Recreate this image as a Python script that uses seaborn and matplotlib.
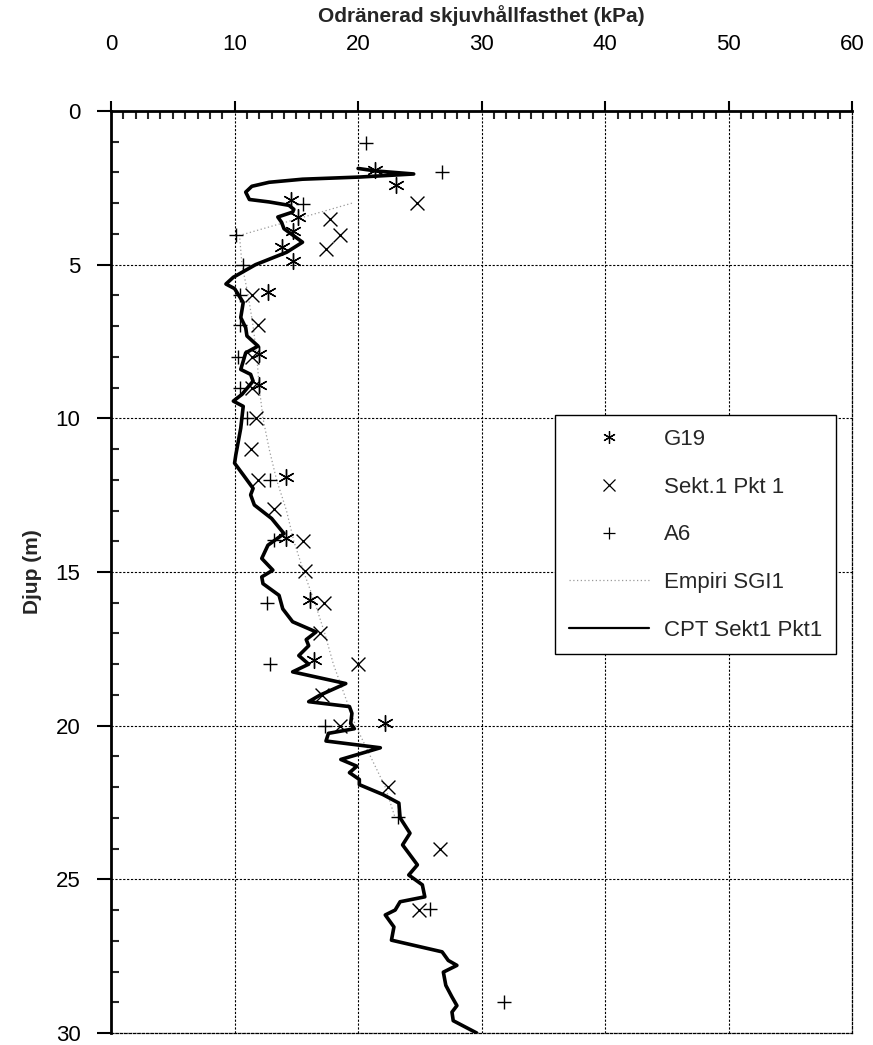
import numpy as np
import pandas as pd
import matplotlib
matplotlib.use("Agg")
import matplotlib.pyplot as plt
import seaborn as sns
from matplotlib.lines import Line2D
from matplotlib.ticker import MultipleLocator

# ---------------- data ----------------
g19_kpa = [21.4, 23.1, 14.6, 15.1, 14.7, 13.8, 14.7, 12.7, 12.0, 12.0, 14.2, 14.2, 16.1, 16.4, 22.2]
g19_depth = [1.93, 2.42, 2.91, 3.45, 3.92, 4.41, 4.89, 5.9, 7.9, 8.9, 11.9, 13.9, 15.9, 17.87, 19.93]

sekt_kpa = [24.8, 17.7, 18.5, 17.4, 11.4, 11.9, 11.4, 11.4, 11.7, 11.3, 11.9, 13.2, 15.5, 15.7,
            17.2, 16.9, 20.0, 17.1, 18.5, 22.4, 26.6, 24.9]
sekt_depth = [3.0, 3.53, 4.02, 4.49, 6.0, 6.97, 8.0, 9.0, 10.0, 11.0, 12.0, 12.96, 14.0, 14.97,
              16.0, 16.97, 18.0, 19.0, 20.0, 21.98, 24.0, 26.0]

a6_kpa = [20.6, 26.8, 15.5, 10.1, 10.7, 10.4, 10.4, 10.3, 10.4, 11.0, 12.9, 13.2, 12.6, 12.9,
          17.3, 23.2, 25.8, 31.8]
a6_depth = [1.04, 2.0, 3.02, 4.03, 5.0, 6.0, 6.95, 8.0, 9.0, 10.0, 12.0, 13.96, 16.0, 18.0,
            20.0, 22.96, 25.97, 29.0]

emp_kpa = [19.5, 10.4, 10.6, 11.1, 11.5, 11.8, 12.0, 12.3, 12.8, 13.4, 14.2, 14.8, 15.6,
           16.5, 17.3, 18.0, 18.9, 19.8, 21.0, 22.2, 23.0]
emp_depth = [3.0, 4.05, 5.0, 6.0, 7.0, 8.0, 9.0, 10.0, 11.0, 12.0, 13.0, 14.0, 15.0,
             16.0, 17.0, 18.0, 19.0, 20.0, 21.0, 22.0, 23.0]

cpt_kpa = [20.0, 21.4, 24.5, 20.1, 15.5, 12.8, 11.4, 10.9, 11.2, 12.8, 14.4, 14.8, 14.7, 13.5,
           13.8, 14.0, 15.5, 14.2, 11.7, 9.9, 9.3, 10.0, 10.7, 10.5, 10.9, 11.0, 11.9, 10.9,
           10.5, 11.3, 11.5, 10.6, 9.9, 10.7, 10.5, 10.1, 10.0, 10.7, 11.5, 11.3, 11.6, 13.0,
           14.0, 12.7, 12.2, 13.1, 12.2, 12.3, 13.6, 13.9, 14.7, 16.6, 15.8, 16.0, 15.2, 16.0,
           14.7, 19.0, 16.9, 16.0, 19.3, 19.5, 19.4, 19.7, 17.6, 17.4, 21.8, 18.6, 19.9, 19.3,
           20.1, 20.1, 22.0, 23.3, 23.4, 24.2, 23.6, 24.1, 24.8, 24.1, 25.2, 25.4, 23.4, 23.0,
           22.2, 22.9, 22.7, 26.8, 27.3, 28.0, 26.9, 27.1, 27.6, 28.0, 27.6, 27.7, 29.6]
cpt_depth = [1.87, 1.95, 2.05, 2.15, 2.22, 2.32, 2.45, 2.64, 2.88, 2.96, 3.07, 3.2, 3.29, 3.45,
             3.62, 3.83, 4.27, 4.6, 5.0, 5.41, 5.63, 5.78, 6.23, 6.72, 7.05, 7.32, 7.65, 7.87,
             8.41, 8.57, 8.79, 9.22, 9.44, 9.61, 10.32, 11.19, 11.46, 11.84, 12.28, 12.49, 12.82, 13.26,
             13.75, 14.13, 14.56, 14.94, 15.16, 15.38, 15.76, 16.2, 16.62, 16.95, 17.2, 17.4, 17.72, 18.0,
             18.25, 18.63, 19.01, 19.22, 19.38, 19.6, 19.93, 20.1, 20.25, 20.5, 20.72, 21.1, 21.32, 21.53,
             21.75, 21.92, 22.24, 22.52, 23.0, 23.5, 23.88, 24.15, 24.53, 24.86, 25.18, 25.57, 25.73, 26.0,
             26.16, 26.55, 26.98, 27.36, 27.64, 27.8, 28.02, 28.45, 28.83, 29.11, 29.32, 29.6, 30.0]

x_ticks = [0, 10, 20, 30, 40, 50, 60]
y_ticks = [0, 5, 10, 15, 20, 25, 30]

# ---------------- style ----------------
sns.set_theme(style="white")
plt.rcParams['font.family'] = ['Liberation Sans', 'DejaVu Sans']

fig = plt.figure(figsize=(8.73, 10.45), dpi=100)
ax = fig.add_axes([0.1272, 0.0115, 0.849, 0.8823])

# grid
for xv in x_ticks[1:]:
    ax.axvline(xv, color='black', lw=0.8, ls=(0, (2, 1.5)), zorder=0)
for yv in y_ticks[1:]:
    ax.axhline(yv, color='black', lw=0.8, ls=(0, (2, 1.5)), zorder=0)

# Empiri line
sns.lineplot(x=emp_kpa, y=emp_depth, sort=False, estimator=None, ax=ax,
             color='#9a9a9a', lw=0.9, ls=(0, (1, 2)), zorder=2)
# CPT line
sns.lineplot(x=cpt_kpa, y=cpt_depth, sort=False, estimator=None, ax=ax,
             color='black', lw=2.6, zorder=3)

# scatter markers
sns.scatterplot(x=g19_kpa, y=g19_depth, marker=(6, 2, 0), s=130, color='black',
                linewidth=1.0, ax=ax, zorder=4)
sns.scatterplot(x=sekt_kpa, y=sekt_depth, marker='x', s=100, color='black',
                linewidth=1.0, ax=ax, zorder=4)
sns.scatterplot(x=a6_kpa, y=a6_depth, marker='+', s=100, color='black',
                linewidth=1.0, ax=ax, zorder=4)

ax.set_xlim(0, 60)
ax.set_ylim(30, 0)

ax.xaxis.tick_top()
ax.xaxis.set_label_position('top')
ax.set_xticks(x_ticks)
ax.set_yticks(y_ticks)
ax.xaxis.set_minor_locator(MultipleLocator(1))
ax.yaxis.set_minor_locator(MultipleLocator(1))

ax.tick_params(axis='x', which='major', direction='out', length=7, width=1.5,
               top=True, bottom=False, labelsize=16, pad=33, colors='black')
ax.tick_params(axis='x', which='minor', direction='in', length=6, width=1.5,
               top=True, bottom=False)
ax.tick_params(axis='y', which='major', direction='out', length=10, width=1.5,
               left=True, right=False, labelsize=16, pad=12, colors='black')
ax.tick_params(axis='y', which='minor', direction='in', length=6, width=1.5,
               left=True, right=False)

ax.set_xlabel('Odränerad skjuvhållfasthet (kPa)', fontsize=15, fontweight='bold', labelpad=9)
ax.set_ylabel('Djup (m)', fontsize=15, fontweight='bold', labelpad=10)

for side in ['top', 'left']:
    ax.spines[side].set_color('black')
    ax.spines[side].set_linewidth(2.0)
for side in ['right', 'bottom']:
    ax.spines[side].set_color('black')
    ax.spines[side].set_linewidth(0.9)
    ax.spines[side].set_linestyle((0, (2, 1.5)))

handles = [
    Line2D([], [], ls='none', marker=(6, 2, 0), ms=9, color='black', mew=0.9),
    Line2D([], [], ls='none', marker='x', ms=8, color='black', mew=0.9),
    Line2D([], [], ls='none', marker='+', ms=8, color='black', mew=0.9),
    Line2D([], [], color='#9a9a9a', lw=0.9, ls=(0, (1, 2))),
    Line2D([], [], color='black', lw=1.6),
]
labels = ['G19', 'Sekt.1 Pkt 1', 'A6', 'Empiri SGI1', 'CPT Sekt1 Pkt1']
leg = ax.legend(handles, labels, loc='upper left', bbox_to_anchor=(0.599, 0.670),
                frameon=True, fancybox=False, edgecolor='black', fontsize=16,
                labelspacing=1.2, handlelength=3.6, handletextpad=0.68,
                borderpad=0.62, borderaxespad=0)
leg.get_frame().set_linewidth(1.0)
leg.get_frame().set_facecolor('white')
leg.get_frame().set_alpha(1)

fig.savefig('out.png', dpi=100, facecolor='white')
